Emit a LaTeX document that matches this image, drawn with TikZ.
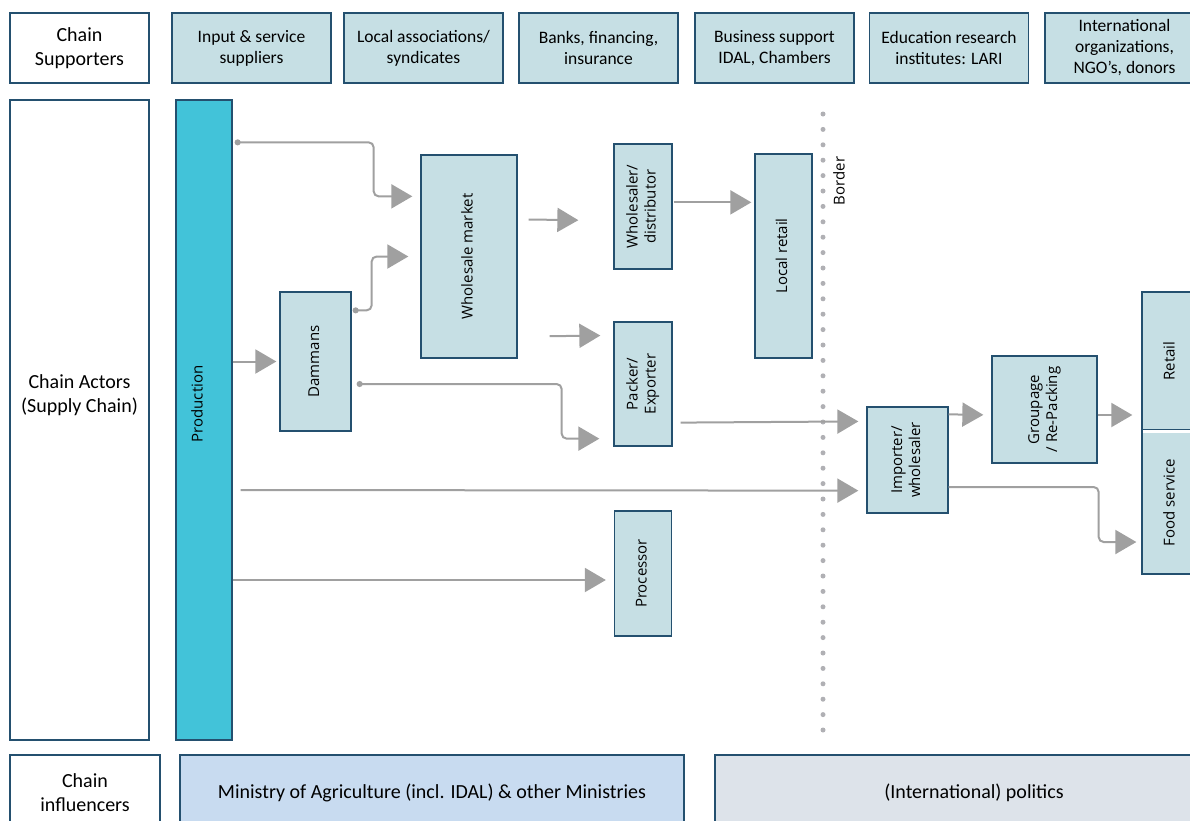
\documentclass[tikz,border=0pt]{standalone}
\usepackage{fontspec}
\usepackage{graphicx}
\setmainfont{Carlito}
\newfontfamily\actorfont{Open Sans}
\usetikzlibrary{arrows.meta,positioning,calc}
\definecolor{boxfill}{HTML}{C6DFE4}
\definecolor{boxline}{HTML}{24506F}
\definecolor{prodfill}{HTML}{42C3D9}
\definecolor{minfill}{HTML}{C8DBF0}
\definecolor{polfill}{HTML}{DDE3EA}
\definecolor{flowgray}{HTML}{A0A0A0}
\definecolor{dotgray}{HTML}{B0B0B4}
\newcommand{\vlabel}[1]{\rotatebox{90}{\begin{tabular}{@{}c@{}}#1\end{tabular}}}

\tikzset{
  sidebox/.style={draw=boxline,line width=1.3pt,fill=white,align=center,inner sep=0pt,
    font=\fontsize{20}{24}\selectfont},
  supbox/.style={draw=boxline,line width=1.3pt,fill=boxfill,align=center,inner sep=0pt,
    minimum width=159pt,minimum height=70pt,font=\fontsize{17.5}{21}\selectfont},
  actor/.style 2 args={draw=boxline,line width=1.3pt,fill=boxfill,inner sep=0pt,
    minimum width=#1,minimum height=#2,font=\actorfont\fontsize{15}{18}\selectfont},
  flow/.style={draw=flowgray,line width=2pt,rounded corners=5pt,
    -{Triangle[length=21pt,width=24pt]}},
  dotflow/.style={flow,{Circle[length=6pt]}-{Triangle[length=21pt,width=24pt]}}
}

\begin{document}
\begin{tikzpicture}[x=1pt,y=-1pt]
\path[use as bounding box,clip] (0,0) rectangle (1190,820);

% supporters
\node[sidebox,minimum width=139pt,minimum height=70pt] (sup) at (79.5,48) {Chain\\Supporters};
\foreach \n/\x/\txt in {inp/251.5/{Input \& service\\suppliers},
    loc/423.5/{Local associations/\\syndicates},
    bank/598.5/{Banks, financing,\\insurance},
    bus/774.5/{Business support\\IDAL, Chambers},
    edu/949/{Education research\\institutes: LARI},
    intl/1124.5/{International\\organizations,\\NGO’s, donors}}
  \node[supbox] (\n) at (\x,48) {\txt};

% actors
\node[sidebox,minimum width=139pt,minimum height=640pt] (act) at (79.5,420) {};
\node[align=center,font=\fontsize{20}{24}\selectfont] (actlab) at (79.5,395) {Chain Actors\\(Supply Chain)};
\node[draw=boxline,line width=1.3pt,fill=prodfill,minimum width=56pt,minimum height=640pt] (prod) at (204,420) {};
\node[rotate=90,font=\actorfont\fontsize{15}{18}\selectfont] (prodlab) at (197,404) {Production};

\node[actor={71pt}{139pt}] (dam) at (315.5,361.5) {\vlabel{Dammans}};
\node[actor={96pt}{203pt}] (wm) at (469,256.5) {\vlabel{Wholesale market}};
\node[actor={58pt}{125pt}] (wd) at (643,206.5) {\vlabel{Wholesaler/\\distributor}};
\node[actor={58pt}{124pt}] (pe) at (643,384) {\vlabel{Packer/\\Exporter}};
\node[actor={57pt}{125pt}] (pr) at (643,573.5) {\vlabel{Processor}};
\node[actor={57pt}{204pt}] (lr) at (783.5,256) {\vlabel{Local retail}};
\node[actor={81pt}{106pt}] (im) at (907.5,460) {\vlabel{Importer/\\wholesaler}};
\node[actor={105pt}{107pt}] (gr) at (1044.5,409.5) {\vlabel{Groupage\\/ Re-Packing}};
\node[actor={58pt}{138pt}] (re) at (1171,361) {\vlabel{Retail}};
\node[actor={58pt}{143pt}] (fs) at (1171,502.5) {\vlabel{Food service}};
\draw[white,line width=3pt] ($(re.south west)+(1.5,0.5)$) -- ($(re.south east)+(0,0.5)$);

% border
\coordinate (bt) at (823,114);
\coordinate (bb) at (823,737);
\draw[dotgray,line width=5pt,line cap=round,dash pattern=on 0pt off 15.4pt] (bt) -- (bb);
\node[rotate=90,font=\actorfont\fontsize{15}{18}\selectfont] (bordlab) at (839,181) {Border};

% flows
\draw[dotflow,shorten >=8pt] ($(prod.north east)+(2,43)$) -- ++(139,0) |- ($(wm.north west)+(0,42)$);
\draw[dotflow,shorten >=12pt] ($(dam.north east)+(1,19)$) -- ++(19,0) |- (wm.west);
\draw[flow,shorten >=3pt] (prod.east |- dam.west) -- (dam.west);
\draw[dotflow,shorten >=14pt] ($(dam.east)+(5,22.5)$) -- ++(205,0) |- ($(pe.south west)+(0,-8)$);
\draw[flow,shorten <=11pt,shorten >=35pt] ($(wm.north east)+(0,65)$) -- ($(wd.south west)+(0,-49)$);
\draw[flow,shorten <=32pt,shorten >=13pt] ($(wm.south east)+(0,-22)$) -- ($(pe.north west)+(0,14)$);
\draw[flow,shorten <=1pt,shorten >=3pt] ($(wd.north east)+(0,59)$) -- ($(lr.north west)+(0,49)$);
\draw[flow,shorten <=8pt,shorten >=8pt] ($(pe.south east)+(0,-24)$) -- ($(im.north west)+(0,15)$);
\draw[flow,shorten <=8pt,shorten >=8pt] ($(prod.east)+(0,70)$) -- ($(im.south west)+(0,-23)$);
\draw[flow,shorten >=8pt] ($(prod.east)+(0,160)$) -- ($(pr.west)+(0,6.5)$);
\draw[flow,shorten >=8pt] ($(im.north east)+(0,8)$) -- ($(gr.west)+(0,5.5)$);
\draw[flow,shorten >=9pt] ($(gr.east)+(0,5.5)$) -- ($(re.west)+(0,54)$);
\draw[flow,shorten >=5pt] ($(im.east)+(0,27)$) -- ++(150,0) |- ($(fs.west)+(0,39.5)$);

% influencers
\node[sidebox,minimum width=150pt,minimum height=76pt] (inf) at (85,793) {Chain\\influencers};
\node[draw=boxline,line width=1.3pt,fill=minfill,minimum width=504pt,minimum height=76pt,
  font=\fontsize{20}{24}\selectfont] (min) at (432,793) {Ministry of Agriculture (incl. IDAL) \& other Ministries};
\node[draw=boxline,line width=1.3pt,fill=polfill,minimum width=518pt,minimum height=76pt,
  font=\fontsize{20}{24}\selectfont] (pol) at (974,793) {(International) politics};
\end{tikzpicture}
\end{document}
